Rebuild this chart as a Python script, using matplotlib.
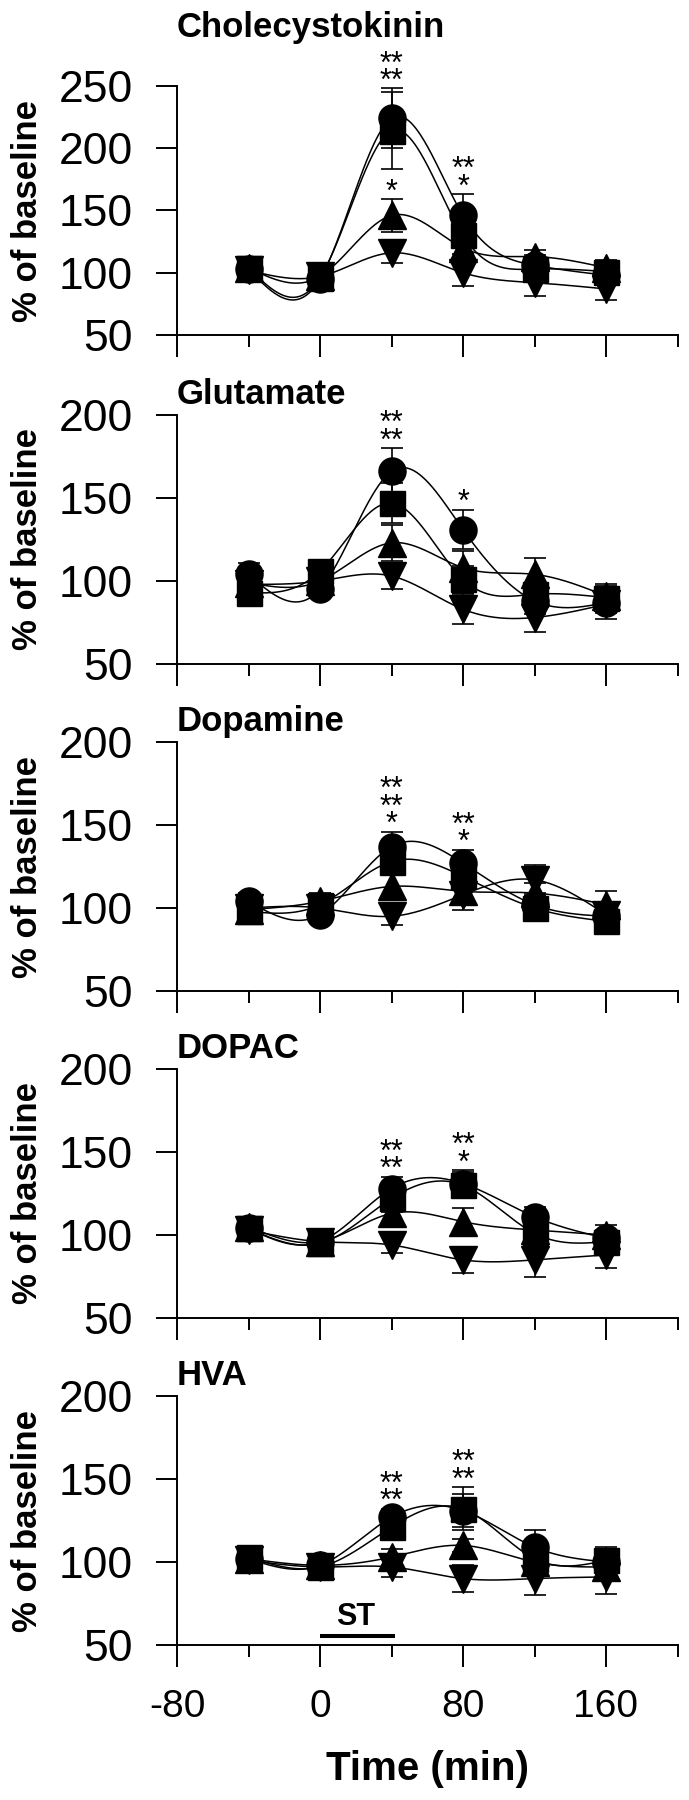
import numpy as np
import matplotlib
matplotlib.use("Agg")
import matplotlib.pyplot as plt

plt.rcParams["font.family"] = ["Liberation Sans", "DejaVu Sans"]
plt.rcParams["axes.unicode_minus"] = False

# sampling times (min)
time = [-40, 0, 40, 80, 120, 160]

panels = ["Cholecystokinin", "Glutamate", "Dopamine", "DOPAC", "HVA"]
y_tops = [250, 200, 200, 200, 200]

# means (% of baseline), order: circle, square, triangle up, triangle down
cck_circle = [103, 95, 224, 146, 106, 98]
cck_square = [104, 96, 214, 130, 103, 101]
cck_tri_up = [104, 97, 146, 120, 113, 104]
cck_tri_dn = [102, 97, 116, 100, 92, 87]
cck_circle_sem = [5, 4, 24, 17, 8, 7]
cck_square_sem = [5, 5, 31, 15, 8, 7]
cck_tri_up_sem = [5, 5, 13, 8, 5, 6]
cck_tri_dn_sem = [4, 5, 8, 11, 11, 9]

glu_circle = [104, 95, 166, 131, 88, 87]
glu_square = [93, 106, 147, 101, 92, 90]
glu_tri_up = [99, 100, 123, 108, 104, 91]
glu_tri_dn = [98, 100, 103, 83, 78, 86]
glu_circle_sem = [7, 5, 14, 12, 8, 6]
glu_square_sem = [6, 6, 12, 8, 7, 8]
glu_tri_up_sem = [5, 5, 11, 10, 10, 6]
glu_tri_dn_sem = [5, 5, 8, 9, 9, 9]

da_circle = [104, 96, 137, 127, 102, 95]
da_square = [98, 102, 128, 119, 100, 92]
da_tri_up = [99, 104, 113, 110, 109, 102]
da_tri_dn = [100, 100, 95, 108, 117, 96]
da_circle_sem = [5, 5, 9, 8, 7, 6]
da_square_sem = [5, 5, 8, 8, 7, 6]
da_tri_up_sem = [5, 5, 7, 7, 6, 8]
da_tri_dn_sem = [4, 5, 5, 9, 9, 6]

dopac_circle = [104, 96, 128, 131, 111, 98]
dopac_square = [104, 95, 122, 130, 101, 96]
dopac_tri_up = [105, 96, 113, 108, 103, 100]
dopac_tri_dn = [103, 96, 94, 85, 85, 88]
dopac_circle_sem = [5, 4, 7, 8, 6, 5]
dopac_square_sem = [5, 4, 8, 8, 6, 5]
dopac_tri_up_sem = [5, 4, 6, 8, 6, 6]
dopac_tri_dn_sem = [4, 4, 5, 8, 10, 8]

hva_circle = [102, 98, 127, 131, 109, 100]
hva_square = [103, 97, 121, 132, 102, 101]
hva_tri_up = [102, 98, 103, 110, 100, 97]
hva_tri_dn = [101, 97, 97, 90, 90, 91]
hva_circle_sem = [4, 4, 5, 10, 10, 7]
hva_square_sem = [4, 4, 6, 13, 7, 8]
hva_tri_up_sem = [4, 4, 5, 4, 6, 6]
hva_tri_dn_sem = [4, 4, 6, 8, 10, 10]

means = [
    [cck_circle, cck_square, cck_tri_up, cck_tri_dn],
    [glu_circle, glu_square, glu_tri_up, glu_tri_dn],
    [da_circle, da_square, da_tri_up, da_tri_dn],
    [dopac_circle, dopac_square, dopac_tri_up, dopac_tri_dn],
    [hva_circle, hva_square, hva_tri_up, hva_tri_dn],
]
sems = [
    [cck_circle_sem, cck_square_sem, cck_tri_up_sem, cck_tri_dn_sem],
    [glu_circle_sem, glu_square_sem, glu_tri_up_sem, glu_tri_dn_sem],
    [da_circle_sem, da_square_sem, da_tri_up_sem, da_tri_dn_sem],
    [dopac_circle_sem, dopac_square_sem, dopac_tri_up_sem, dopac_tri_dn_sem],
    [hva_circle_sem, hva_square_sem, hva_tri_up_sem, hva_tri_dn_sem],
]

# significance marks: (time, series index, rows top -> bottom)
stars = [
    [(40, 0, ["**", "**"]), (40, 2, ["*"]), (80, 0, ["**", "*"])],
    [(40, 0, ["**", "**"]), (80, 0, ["*"])],
    [(40, 0, ["**", "**", "*"]), (80, 0, ["**", "*"])],
    [(40, 0, ["**", "**"]), (80, 0, ["**", "*"])],
    [(40, 0, ["**", "**"]), (80, 1, ["**", "**"])],
]

# stimulation period
st_start, st_end = 0, 42

markers = ["o", "s", "^", "v"]
msizes = [19.5, 18, 19.5, 19.5]
draw_order = [2, 3, 0, 1]


def natural_spline(x, y, n=300):
    # natural cubic spline, used only for drawing the smooth curve
    x = np.asarray(x, float)
    y = np.asarray(y, float)
    h = np.diff(x)
    m = len(x)
    A = np.zeros((m, m))
    r = np.zeros(m)
    A[0, 0] = A[-1, -1] = 1
    for i in range(1, m - 1):
        A[i, i - 1] = h[i - 1]
        A[i, i] = 2 * (h[i - 1] + h[i])
        A[i, i + 1] = h[i]
        r[i] = 3 * ((y[i + 1] - y[i]) / h[i] - (y[i] - y[i - 1]) / h[i - 1])
    c = np.linalg.solve(A, r)
    b = (y[1:] - y[:-1]) / h - h * (2 * c[:-1] + c[1:]) / 3
    d = (c[1:] - c[:-1]) / (3 * h)
    xs = np.linspace(x[0], x[-1], n)
    idx = np.clip(np.searchsorted(x, xs) - 1, 0, m - 2)
    dx = xs - x[idx]
    ys = y[idx] + b[idx] * dx + c[idx] * dx ** 2 + d[idx] * dx ** 3
    return xs, ys


W, H = 689, 1800
fig = plt.figure(figsize=(W / 100, H / 100), dpi=100)

ax_left = 177 / W
ax_width = 500.5 / W
ax_height = 249 / H
bottoms_px = [335, 664, 991, 1318, 1645]
title_pad = [35, 8, 8, 8, 8]

for p in range(5):
    ax = fig.add_axes([ax_left, 1 - bottoms_px[p] / H, ax_width, ax_height])
    ax.set_xlim(-80, 200)
    ax.set_ylim(50, y_tops[p])

    for s in draw_order:
        xs, ys = natural_spline(time, means[p][s])
        ax.plot(xs, ys, color="black", lw=1.1, zorder=2)
    for s in draw_order:
        ax.errorbar(time, means[p][s], yerr=sems[p][s], fmt=markers[s],
                    ms=msizes[s], color="black", mec="black", ecolor="black",
                    elinewidth=1.2, capsize=8, capthick=1.2, zorder=3)

    # asterisks stacked above the error bar of the marked group
    for t, s, rows in stars[p]:
        i = time.index(t)
        anchor = means[p][s][i] + sems[p][s][i]
        ax.annotate("\n".join(rows), xy=(t, anchor), xytext=(0, -6),
                    textcoords="offset points", ha="center", va="bottom",
                    multialignment="center", linespacing=0.45,
                    fontsize=22, zorder=5)

    ax.annotate(panels[p], xy=(0, 1), xycoords="axes fraction",
                xytext=(0, title_pad[p]), textcoords="offset points",
                ha="left", va="baseline", fontsize=25, fontweight="bold")

    for side in ["top", "right"]:
        ax.spines[side].set_visible(False)
    for side in ["left", "bottom"]:
        ax.spines[side].set_linewidth(1.4)

    ax.set_yticks(np.arange(50, y_tops[p] + 1, 50))
    ax.set_xticks([-80, 0, 80, 160])
    ax.set_xticks([-40, 40, 120, 200], minor=True)
    ax.tick_params(axis="y", direction="out", length=15, width=1.4,
                   labelsize=32, pad=17)
    ax.tick_params(axis="x", which="major", direction="out", length=16,
                   width=1.4, labelsize=28, pad=16)
    ax.tick_params(axis="x", which="minor", direction="out", length=8.6,
                   width=1.4)
    if p < 4:
        ax.tick_params(axis="x", labelbottom=False)

    yc = 1 - (bottoms_px[p] - 249 / 2) / H
    fig.text(28 / W, yc, "% of baseline", rotation=90, ha="center",
             va="center", fontsize=25, fontweight="bold")

    if p == 4:
        ax.plot([st_start, st_end], [55.6, 55.6], color="black", lw=2.9,
                solid_capstyle="butt")
        ax.text(20, 62, "ST", ha="center", va="baseline", fontsize=22,
                fontweight="bold")

fig.text((177 + 250) / W, 1 - 1780 / H, "Time (min)", ha="center",
         va="baseline", fontsize=29, fontweight="bold")

fig.savefig("out.png", dpi=100)
